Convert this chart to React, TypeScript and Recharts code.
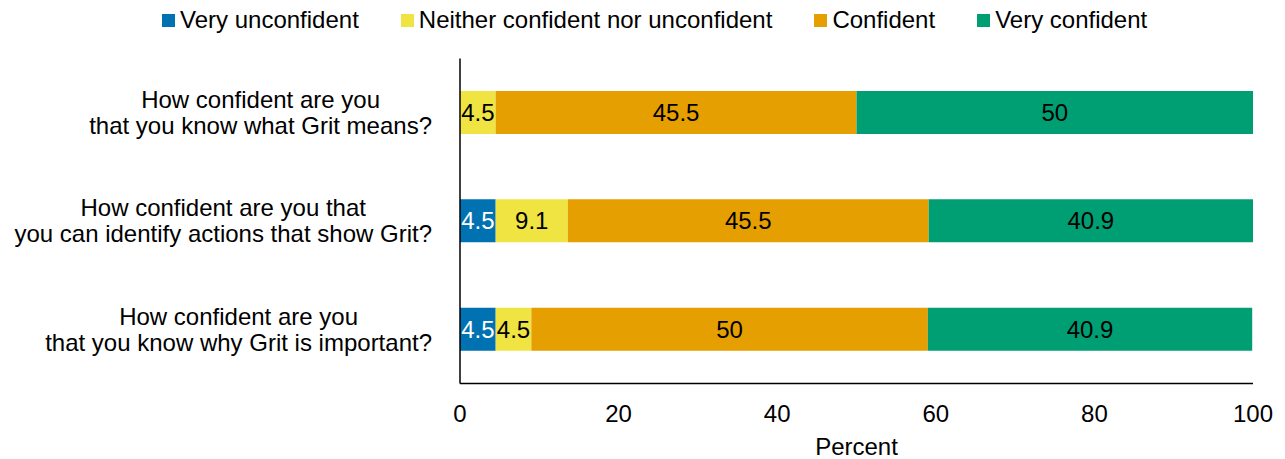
import React from 'react';
import { BarChart, Bar, XAxis, YAxis, Legend, LabelList, Label } from 'recharts';

const questions = [
  'How confident are you\nthat you know what Grit means?',
  'How confident are you that\nyou can identify actions that show Grit?',
  'How confident are you\nthat you know why Grit is important?',
];
const seriesNames = ['Very unconfident', 'Neither confident nor unconfident', 'Confident', 'Very confident'];
const seriesKeys = ['vu', 'ne', 'co', 'vc'];
const veryUnconfident = [0, 4.5, 4.5];
const neither = [4.5, 9.1, 4.5];
const confident = [45.5, 45.5, 50];
const veryConfident = [50, 40.9, 40.9];
const xTicks = [0, 20, 40, 60, 80, 100];
const colors = ['#0072B2', '#F0E442', '#E69F00', '#009E73'];
const labelColors = ['#ffffff', '#000000', '#000000', '#000000'];

const data = questions.map((q, i) => ({
  q,
  vu: veryUnconfident[i],
  ne: neither[i],
  co: confident[i],
  vc: veryConfident[i],
}));

const FONT = '"Liberation Sans", Arial, sans-serif';
const FS = 24;

let ctx: CanvasRenderingContext2D | null = null;
function measure(t: string): number {
  if (!ctx) ctx = document.createElement('canvas').getContext('2d');
  if (!ctx) return t.length * 11;
  ctx.font = `${FS}px "Liberation Sans", Arial, sans-serif`;
  return ctx.measureText(t).width;
}

const YTick = (props: any) => {
  const { x, y, payload } = props;
  const lines = String(payload.value).split('\n');
  const w = Math.max(...lines.map(measure));
  const cx = x - w / 2;
  const lh = 26;
  const startY = y - ((lines.length - 1) * lh) / 2;
  return (
    <text x={cx} y={startY} textAnchor="middle" fontSize={FS} fontFamily={FONT} fill="#000">
      {lines.map((l, i) => (
        <tspan key={i} x={cx} y={startY + i * lh} dy="0.35em">
          {l}
        </tspan>
      ))}
    </text>
  );
};

const makeLabel = (color: string) => (props: any) => {
  const { x, y, width, height, value } = props;
  if (!value) return null;
  return (
    <text
      x={x + width / 2}
      y={y + height / 2}
      dy="0.35em"
      textAnchor="middle"
      fontSize={FS}
      fontFamily={FONT}
      fill={color}
    >
      {value}
    </text>
  );
};

const LegendContent = () => (
  <div
    style={{
      height: 40,
      display: 'flex',
      alignItems: 'center',
      paddingLeft: 162,
      fontFamily: FONT,
      fontSize: FS,
      color: '#000',
      boxSizing: 'border-box',
    }}
  >
    {seriesNames.map((n, i) => (
      <div key={n} style={{ display: 'flex', alignItems: 'center', marginRight: 42 }}>
        <span style={{ width: 13, height: 13, background: colors[i], marginRight: 5, display: 'inline-block' }} />
        <span>{n}</span>
      </div>
    ))}
  </div>
);

export default function App() {
  return (
    <div style={{ position: 'absolute', left: 0, top: 0, width: 1285, height: 459, background: '#fff' }}>
      <BarChart
        width={1285}
        height={459}
        data={data}
        layout="vertical"
        margin={{ top: 18.5, right: 32, bottom: 0, left: 0 }}
        barCategoryGap="30%"
      >
        <Legend
          verticalAlign="top"
          align="left"
          content={<LegendContent />}
          wrapperStyle={{ top: 0, left: 0, width: 1285, height: 40, margin: 0, padding: 0 }}
        />
        <XAxis
          type="number"
          domain={[0, 100]}
          ticks={xTicks}
          tickLine={false}
          tickSize={0}
          tickMargin={21}
          axisLine={{ stroke: '#000', strokeWidth: 1.5 }}
          tick={{ fontSize: FS, fontFamily: FONT, fill: '#000' }}
          height={75.5}
          interval={0}
        >
          <Label
            value="Percent"
            position="insideBottom"
            offset={4}
            style={{ fontSize: FS, fontFamily: FONT, fill: '#000' }}
          />
        </XAxis>
        <YAxis
          type="category"
          dataKey="q"
          width={460}
          tickLine={false}
          tickSize={0}
          tickMargin={28}
          axisLine={{ stroke: '#000', strokeWidth: 1.5 }}
          tick={<YTick />}
          interval={0}
        />
        {seriesKeys.map((k, i) => (
          <Bar key={k} dataKey={k} name={seriesNames[i]} stackId="a" fill={colors[i]} isAnimationActive={false}>
            <LabelList dataKey={k} content={makeLabel(labelColors[i])} />
          </Bar>
        ))}
      </BarChart>
    </div>
  );
}
